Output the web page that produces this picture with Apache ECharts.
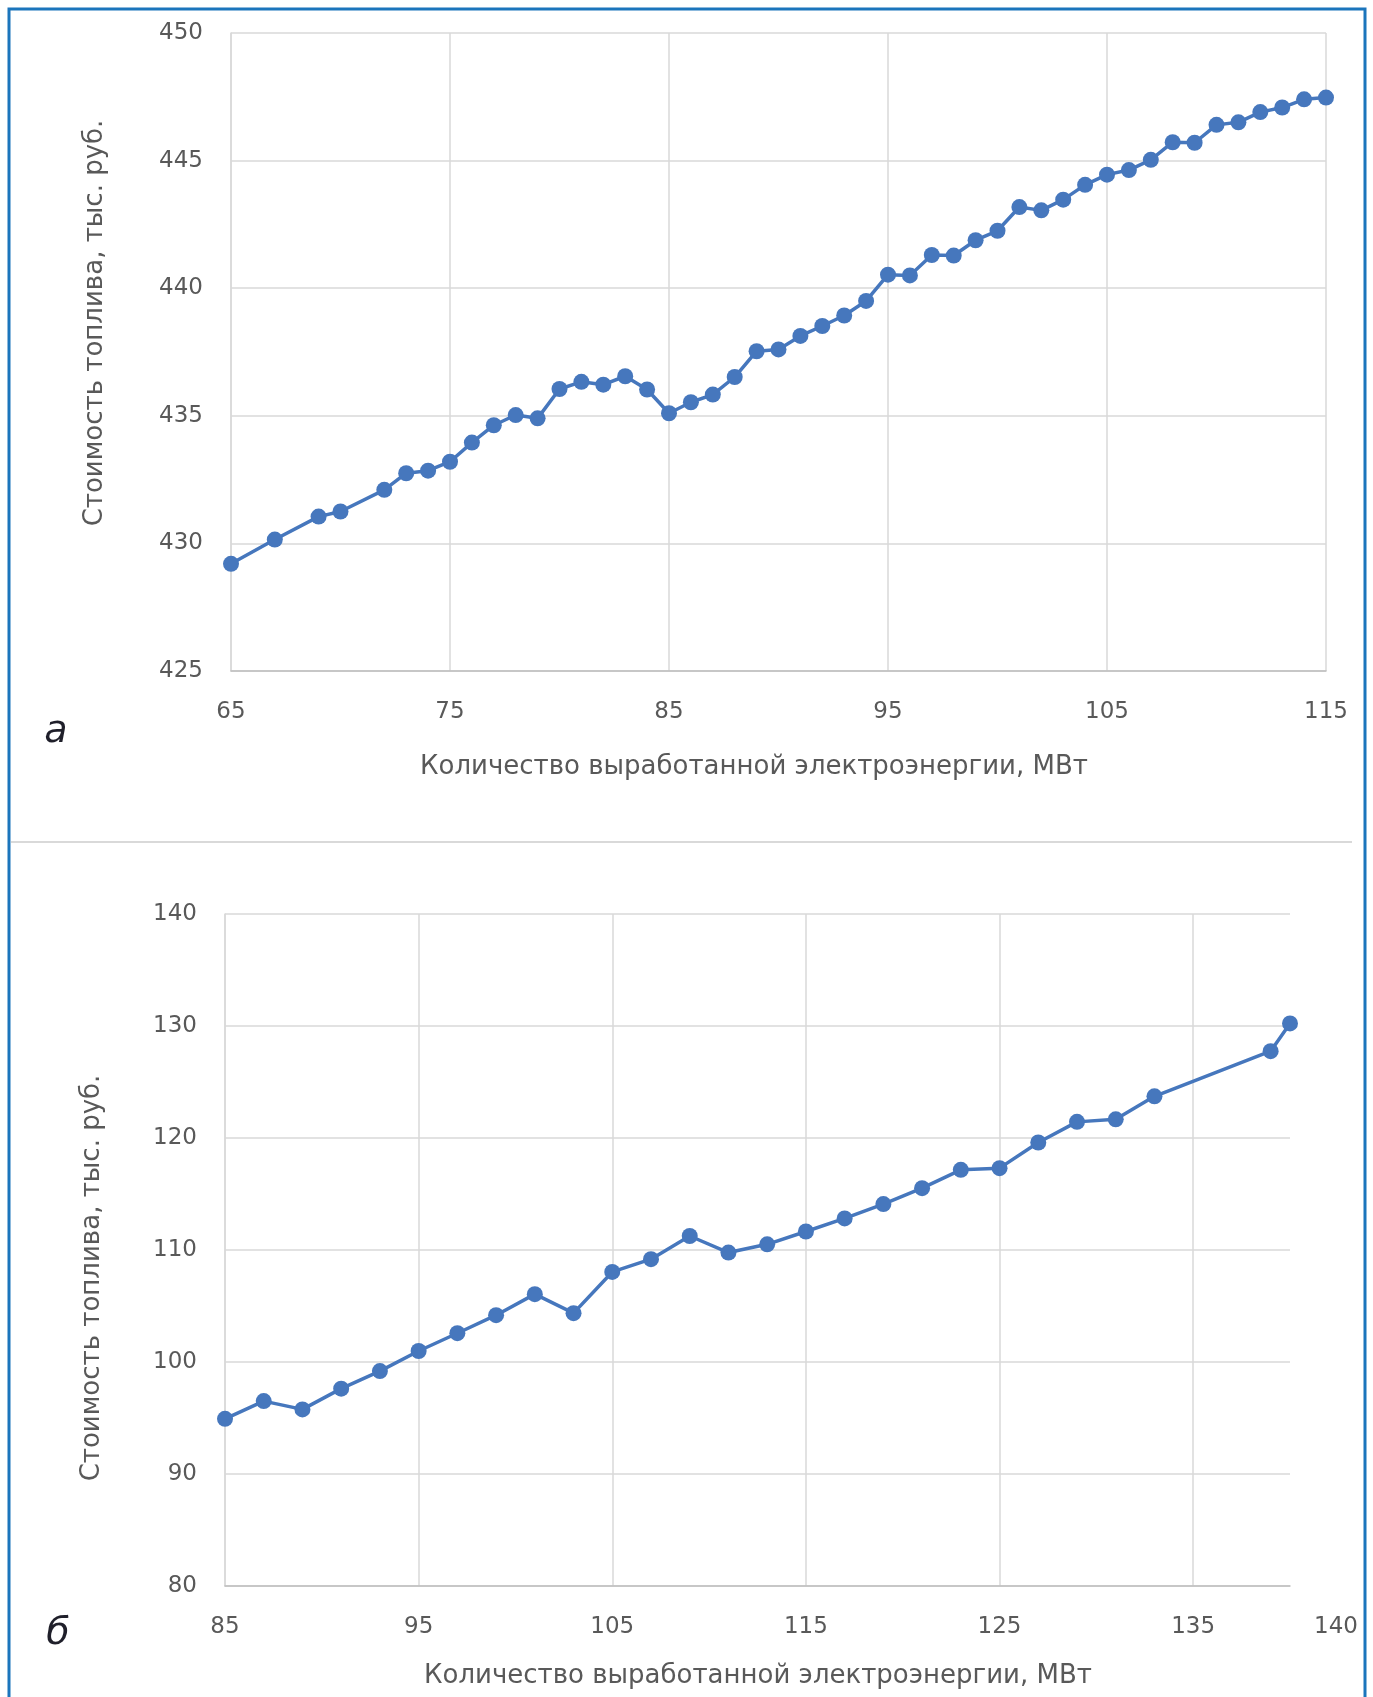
<!DOCTYPE html>
<html>
<head>
<meta charset="utf-8">
<script src="https://cdn.jsdelivr.net/npm/echarts@6/dist/echarts.min.js"></script>
<style>
html,body{margin:0;padding:0;background:#fff;}
#c{width:1373px;height:1697px;}
</style>
</head>
<body>
<div id="c"></div>
<script>
// ---- Data ----
const xA = [65,67,69,70,72,73,74,75,76,77,78,79,80,81,82,83,84,85,86,87,88,89,90,91,92,93,94,95,96,97,98,99,100,101,102,103,104,105,106,107,108,109,110,111,112,113,114,115];
const yA = [429.2,430.15,431.05,431.25,432.1,432.75,432.85,433.2,433.95,434.63,435.03,434.9,436.05,436.33,436.22,436.55,436.03,435.1,435.53,435.83,436.52,437.53,437.6,438.13,438.52,438.93,439.5,440.53,440.5,441.3,441.28,441.88,442.25,443.18,443.05,443.47,444.05,444.45,444.63,445.03,445.72,445.7,446.4,446.5,446.9,447.08,447.4,447.47];

const xB = [85,87,89,91,93,95,97,99,101,103,105,107,109,111,113,115,117,119,121,123,125,127,129,131,133,139,140];
const yB = [94.93,96.51,95.77,97.62,99.19,100.98,102.57,104.18,106.06,104.36,108.04,109.18,111.25,109.77,110.51,111.65,112.82,114.1,115.52,117.16,117.31,119.6,121.44,121.67,123.72,127.75,130.23];

const axisA = {xMin:65, xMax:115, xStep:10, yMin:425, yMax:450, yStep:5};
const axisB = {xMin:85, xMax:140, xStep:10, yMin:80, yMax:140, yStep:10};

const yTitle = 'Стоимость топлива, тыс. руб.';
const xTitle = 'Количество выработанной электроэнергии, МВт';
const panelA = 'а';
const panelB = 'б';

// ---- Styling ----
const FONT = 'DejaVu Sans';
const TXT = '#595959';
const GRID_C = '#d9d9d9';
const LINE_C = '#4677bd';
const TICK_FS = 23;

const chart = echarts.init(document.getElementById('c'), null, {renderer:'canvas'});

function xAxisCfg(idx, ax, farMax){
  return {
    type:'value', gridIndex:idx, min:ax.xMin, max:ax.xMax, interval:ax.xStep,
    axisLine:{show:true, lineStyle:{color:'#bfbfbf', width:1.5}},
    axisTick:{show:false},
    splitLine:{show:true, showMaxLine: !farMax, lineStyle:{color:GRID_C, width:1.5}},
    axisLabel:{
      margin:30, color:TXT, fontFamily:FONT, fontSize:TICK_FS,
      formatter: farMax ? function(v){ return v === ax.xMax ? '{far|' + v + '}' : String(v); } : null,
      rich: farMax ? {far:{padding:[0,0,0,92], color:TXT, fontFamily:FONT, fontSize:TICK_FS}} : undefined
    }
  };
}
function yAxisCfg(idx, ax){
  return {
    type:'value', gridIndex:idx, min:ax.yMin, max:ax.yMax, interval:ax.yStep,
    axisLine:{show:true, lineStyle:{color:GRID_C, width:1.5}},
    axisTick:{show:false},
    splitLine:{show:true, lineStyle:{color:GRID_C, width:1.5}},
    axisLabel:{margin:28, color:TXT, fontFamily:FONT, fontSize:TICK_FS}
  };
}
function seriesCfg(idx, xs, ys){
  return {
    type:'line', xAxisIndex:idx, yAxisIndex:idx,
    data: xs.map((x,i)=>[x, ys[i]]),
    symbol:'circle', symbolSize:16, showSymbol:true,
    lineStyle:{color:LINE_C, width:3.5},
    itemStyle:{color:LINE_C},
    animation:false, z:5
  };
}
function txt(x, y, s, opts){
  return Object.assign({
    type:'text', x:x, y:y, silent:true,
    style:{text:s, fill:TXT, font:'26px "' + FONT + '"', textAlign:'center', textVerticalAlign:'middle'}
  }, opts || {});
}

chart.setOption({
  animation:false,
  backgroundColor:'#ffffff',
  grid:[
    {left:231, top:33, width:1095, height:638},
    {left:225, top:914, width:1065, height:672}
  ],
  xAxis:[xAxisCfg(0, axisA, false), xAxisCfg(1, axisB, true)],
  yAxis:[yAxisCfg(0, axisA), yAxisCfg(1, axisB)],
  series:[seriesCfg(0, xA, yA), seriesCfg(1, xB, yB)],
  graphic:[
    {type:'rect', silent:true, shape:{x:9, y:9, width:1356, height:1700}, style:{fill:'none', stroke:'#1b75bc', lineWidth:3}},
    {type:'line', silent:true, shape:{x1:11, y1:842, x2:1352, y2:842}, style:{stroke:'#d9d9d9', lineWidth:2}},
    txt(95, 323, yTitle, {rotation:Math.PI/2}),
    txt(92, 1278, yTitle, {rotation:Math.PI/2}),
    txt(754, 767, xTitle),
    txt(758, 1676, xTitle),
    {type:'text', x:56, y:732, silent:true, style:{text:panelA, fill:'#1f1f2a', font:'italic 38px "DejaVu Sans"', textAlign:'center', textVerticalAlign:'middle'}},
    {type:'text', x:58, y:1634, silent:true, style:{text:panelB, fill:'#1f1f2a', font:'italic 38px "DejaVu Sans"', textAlign:'center', textVerticalAlign:'middle'}}
  ]
});
</script>
</body>
</html>
